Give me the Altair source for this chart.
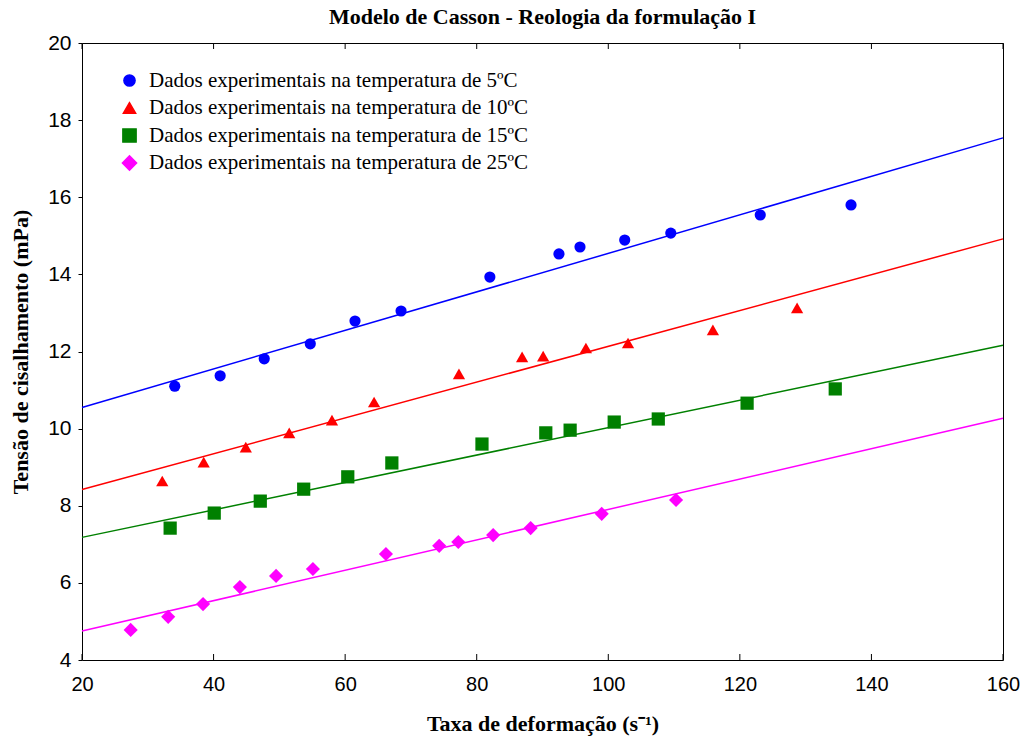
import altair as alt
import pandas as pd

series = [
    "Dados experimentais na temperatura de 5ºC",
    "Dados experimentais na temperatura de 10ºC",
    "Dados experimentais na temperatura de 15ºC",
    "Dados experimentais na temperatura de 25ºC",
]
colors = ["#0000FF", "#FF0000", "#008000", "#FF00FF"]
shapes = ["circle", "triangle-up", "square", "diamond"]
marker_sizes = [125, 200, 120, 180]

x5 = [34.1, 41.0, 47.7, 54.7, 61.5, 68.5, 82.0, 92.5, 95.7, 102.5, 109.5, 123.1, 136.9]
y5 = [11.10, 11.37, 11.81, 12.20, 12.79, 13.05, 13.93, 14.53, 14.71, 14.89, 15.07, 15.54, 15.80]
x10 = [32.2, 38.5, 44.9, 51.5, 58.0, 64.4, 77.3, 86.9, 90.1, 96.6, 103.0, 115.9, 128.7]
y10 = [8.64, 9.13, 9.52, 9.89, 10.22, 10.69, 11.42, 11.86, 11.88, 12.09, 12.22, 12.56, 13.13]
x15 = [33.4, 40.1, 47.1, 53.7, 60.4, 67.1, 80.8, 90.5, 94.2, 100.9, 107.6, 121.1, 134.5]
y15 = [7.42, 7.81, 8.12, 8.43, 8.75, 9.11, 9.60, 9.89, 9.96, 10.17, 10.25, 10.66, 11.03]
x25 = [27.4, 33.1, 38.4, 44.0, 49.5, 55.1, 66.2, 74.3, 77.2, 82.5, 88.2, 99.0, 110.3]
y25 = [4.78, 5.12, 5.45, 5.89, 6.18, 6.36, 6.75, 6.96, 7.06, 7.24, 7.42, 7.79, 8.15]

fit_x = [20, 160]
fit5 = [10.55, 17.54]
fit10 = [8.42, 14.92]
fit15 = [7.18, 12.16]
fit25 = [4.75, 10.27]

x_ticks = [20, 40, 60, 80, 100, 120, 140, 160]
y_ticks = [4, 6, 8, 10, 12, 14, 16, 18, 20]

rows = []
for s, xs, ys in zip(series, [x5, x10, x15, x25], [y5, y10, y15, y25]):
    for a, b in zip(xs, ys):
        rows.append({"x": a, "y": b, "serie": s})
pts = pd.DataFrame(rows)

frows = []
for s, fy in zip(series, [fit5, fit10, fit15, fit25]):
    for a, b in zip(fit_x, fy):
        frows.append({"x": a, "y": b, "serie": s})
fits = pd.DataFrame(frows)

ticks = pd.DataFrame({"t": x_ticks})

W, H = 921, 617

xscale = alt.Scale(domain=[20, 160], nice=False)
yscale = alt.Scale(domain=[4, 20], nice=False)

xaxis = alt.Axis(
    values=x_ticks, ticks=False, domain=False, grid=False, labelFlush=False,
    labelFont="Liberation Sans", labelFontSize=20, labelColor="black",
    labelPadding=14,
    title="Taxa de deformação (s⁻¹)", titleFont="Liberation Serif", titleFontSize=22,
    titleFontWeight="bold", titleColor="black", titleY=70, titleBaseline="alphabetic",
)
yaxis = alt.Axis(
    values=y_ticks, ticks=True, tickSize=4, tickColor="black", domain=False, grid=False,
    labelFont="Liberation Sans", labelFontSize=21, labelColor="black", labelPadding=7,
    title="Tensão de cisalhamento (mPa)", titleFont="Liberation Serif", titleFontSize=22,
    titleFontWeight="bold", titleColor="black", titleX=-62, titleY=H / 2,
    titleAlign="center", titleBaseline="middle", titleAngle=270,
)

leg = alt.Legend(
    title=None, orient="none", legendX=37, legendY=27,
    labelFont="Liberation Serif", labelFontSize=21, labelColor="black",
    labelLimit=1000, labelOffset=9, rowPadding=5.5, symbolSize=130,
)

points = alt.Chart(pts).mark_point(filled=True, opacity=1).encode(
    x=alt.X("x:Q", scale=xscale, axis=xaxis),
    y=alt.Y("y:Q", scale=yscale, axis=yaxis),
    color=alt.Color("serie:N", scale=alt.Scale(domain=series, range=colors), legend=leg),
    shape=alt.Shape("serie:N", scale=alt.Scale(domain=series, range=shapes), legend=leg),
    size=alt.Size("serie:N", scale=alt.Scale(domain=series, range=marker_sizes), legend=None),
)

lines = alt.Chart(fits).mark_line(strokeWidth=1.5).encode(
    x=alt.X("x:Q", scale=xscale),
    y=alt.Y("y:Q", scale=yscale),
    stroke=alt.Stroke("serie:N", scale=alt.Scale(domain=series, range=colors), legend=None),
    detail="serie:N",
)

tick_bottom = alt.Chart(ticks).mark_rule(color="black", strokeWidth=1).encode(
    x=alt.X("t:Q", scale=xscale), y=alt.value(H), y2=alt.value(H - 6)
)
tick_top = alt.Chart(ticks).mark_rule(color="black", strokeWidth=1).encode(
    x=alt.X("t:Q", scale=xscale), y=alt.value(0), y2=alt.value(6)
)

chart = alt.layer(points, lines, tick_bottom, tick_top).properties(
    width=W, height=H,
    title=alt.TitleParams(
        "Modelo de Casson - Reologia da formulação I",
        font="Liberation Serif", fontSize=22, fontWeight="bold", color="black",
        anchor="middle", offset=3,
    ),
    autosize=alt.AutoSizeParams(type="none"),
    padding={"left": 82, "top": 43, "right": 22, "bottom": 83},
    background="white",
).configure_view(stroke="black", strokeWidth=1)

chart.save("out.html", embed_options={"renderer": "svg", "actions": False})
